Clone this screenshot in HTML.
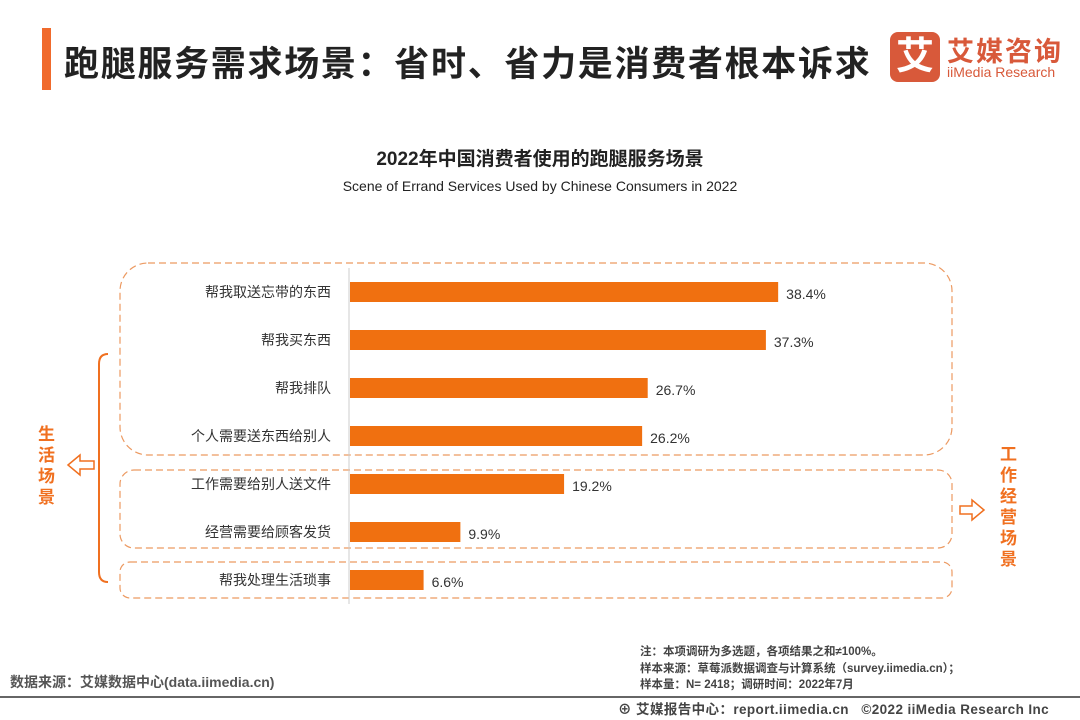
<!DOCTYPE html>
<html><head><meta charset="utf-8"><style>
body{margin:0;width:1080px;height:720px;background:#fff;font-family:"Liberation Sans","Noto Sans CJK SC",sans-serif;position:relative;overflow:hidden}
.a{position:absolute}
</style></head><body>
<div class="a" style="left:42px;top:28px;width:9px;height:62px;background:#f06a2c"></div>
<div class="a" style="left:64px;top:36px;font-size:35px;font-weight:bold;color:#222;letter-spacing:1.7px">跑腿服务需求场景：省时、省力是消费者根本诉求</div>
<div class="a" style="left:890px;top:32px;width:50px;height:50px;background:#d8593a;border-radius:8px;color:#fff;font-size:38px;font-weight:bold;text-align:center;line-height:50px">艾</div>
<div class="a" style="left:947px;top:30px;font-size:27px;font-weight:bold;color:#d8593a;letter-spacing:2px">艾媒咨询</div>
<div class="a" style="left:947px;top:64px;font-size:14px;color:#d8593a">iiMedia Research</div>
<div class="a" style="left:0;width:1080px;text-align:center;top:144px;font-size:19px;font-weight:bold;color:#222">2022年中国消费者使用的跑腿服务场景</div>
<div class="a" style="left:0;width:1080px;text-align:center;top:178px;font-size:14px;color:#222">Scene of Errand Services Used by Chinese Consumers in 2022</div>
<svg class="a" style="left:0;top:0" width="1080" height="720" id="chart">
<rect x="120" y="263" width="832" height="192" rx="28" fill="none" stroke="#ec9a62" stroke-width="1.2" stroke-dasharray="7,4"/>
<rect x="120" y="470" width="832" height="78" rx="14" fill="none" stroke="#ec9a62" stroke-width="1.2" stroke-dasharray="7,4"/>
<rect x="120" y="562" width="832" height="36" rx="10" fill="none" stroke="#ec9a62" stroke-width="1.2" stroke-dasharray="7,4"/>
<path d="M108 354 Q99 354 99 364 L99 572 Q99 582 108 582" fill="none" stroke="#f07020" stroke-width="2"/>
<line x1="349" y1="268" x2="349" y2="604" stroke="#ccc"/>
<path d="M68 465 L80 455 L80 461 L94 461 L94 469 L80 469 L80 475 Z" fill="none" stroke="#f07020" stroke-width="1.5"/>
<path d="M984 510 L972 500 L972 506 L960 506 L960 514 L972 514 L972 520 Z" fill="none" stroke="#f07020" stroke-width="1.5"/>
<g id="bars"></g>
</svg>
<div class="a" style="left:38px;top:424px;width:20px;font-size:17px;font-weight:bold;color:#f07020;line-height:21px">生活场景</div>
<div class="a" style="left:1000px;top:444px;width:20px;font-size:17px;font-weight:bold;color:#f07020;line-height:21px">工作经营场景</div>
<div class="a" style="left:10px;top:672px;font-size:14px;color:#555;font-weight:bold">数据来源：艾媒数据中心(data.iimedia.cn)</div>
<div class="a" style="left:640px;top:644px;font-size:11.5px;color:#444;line-height:16.5px;font-weight:bold">注：本项调研为多选题，各项结果之和≠100%。<br>样本来源：草莓派数据调查与计算系统（survey.iimedia.cn）；<br>样本量：N= 2418；调研时间：2022年7月</div>
<div class="a" style="left:0;top:696px;width:1080px;height:2px;background:#666"></div>
<div class="a" style="left:618px;top:698px;font-size:13.5px;color:#444;font-weight:bold;letter-spacing:0.4px">⊕ 艾媒报告中心：report.iimedia.cn &nbsp; ©2022 iiMedia Research Inc</div>
<script>
const categories=["帮我取送忘带的东西","帮我买东西","帮我排队","个人需要送东西给别人","工作需要给别人送文件","经营需要给顾客发货","帮我处理生活琐事"];
const values=[38.4,37.3,26.7,26.2,19.2,9.9,6.6];
const x0=350,pxPer=11.15,yTop=292,step=48,bh=20;
const xs=v=>x0+v*pxPer, ys=i=>yTop+i*step;
const g=document.getElementById('bars'),NS='http://www.w3.org/2000/svg';
categories.forEach((c,i)=>{
 const r=document.createElementNS(NS,'rect');
 
 
 r.setAttribute('x',x0);r.setAttribute('y',ys(i)-bh/2);r.setAttribute('width',xs(values[i])-x0);r.setAttribute('height',bh);r.setAttribute('fill','#f07010');g.appendChild(r);
 const t=document.createElementNS(NS,'text');
 
 
 t.setAttribute('x',331);t.setAttribute('y',ys(i)+5);t.setAttribute('text-anchor','end');t.setAttribute('font-size','14');t.setAttribute('fill','#333');t.textContent=c;g.appendChild(t);
 const v=document.createElementNS(NS,'text');
 
 
 v.setAttribute('x',xs(values[i])+8);v.setAttribute('y',ys(i)+7);v.setAttribute('font-size','14');v.setAttribute('fill','#333');v.textContent=values[i].toFixed(1)+'%';g.appendChild(v);
});
</script>
</body></html>
